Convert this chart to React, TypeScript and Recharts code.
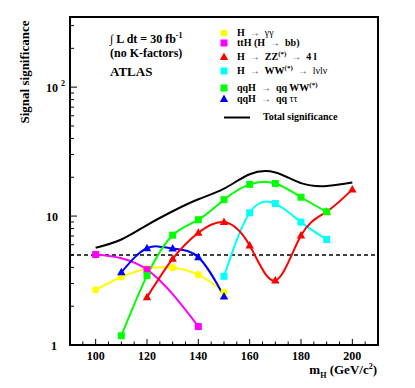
import React from 'react';
import { ComposedChart, Line, XAxis, YAxis, ReferenceLine, ReferenceArea } from 'recharts';

// Higgs mass points (GeV/c^2)
const masses = [100, 110, 120, 130, 140, 150, 160, 170, 180, 190, 200];

// signal significance per channel, null where the channel was not evaluated
const hGamGam = [2.68, 3.37, 3.91, 3.98, 3.51, 2.57, null, null, null, null, null];
const ttHbb = [5.03, null, 3.84, null, 1.39, null, null, null, null, null, null];
const hZZ4l = [null, null, 2.35, 4.66, 7.42, 8.98, 5.91, 3.17, 7.07, 10.8, 16.1];
const hWWlvlv = [null, null, null, null, null, 3.41, 10.6, 12.5, 8.98, 6.58, null];
const qqhWW = [null, 1.18, 3.45, 7.11, 9.37, 13.4, 17.6, 17.9, 14.0, 10.8, null];
const qqhTauTau = [null, 3.66, 5.63, 5.6, 4.79, 2.38, null, null, null, null, null];
const totalSig = [5.67, 6.58, 8.51, 10.9, 13.5, 16.3, 21.1, 21.8, 18.0, 17.1, 18.2];

const discoveryLevel = 5;

const xTicks = [95, 100, 105, 110, 115, 120, 125, 130, 135, 140, 145, 150, 155, 160, 165, 170, 175, 180, 185, 190, 195, 200, 205];
const xLabels = [100, 120, 140, 160, 180, 200];
const yTicks = [1, 2, 3, 4, 5, 6, 7, 8, 9, 10, 20, 30, 40, 50, 60, 70, 80, 90, 100, 200, 300];

const data = masses.map((m, i) => ({
  mass: m,
  gg: hGamGam[i],
  tth: ttHbb[i],
  zz: hZZ4l[i],
  ww: hWWlvlv[i],
  qqww: qqhWW[i],
  qqtt: qqhTauTau[i],
  total: totalSig[i],
}));

const FONT = '"Liberation Serif", "Times New Roman", serif';

type Shape = 'circle' | 'square' | 'triangle';

function drawMarker(shape: Shape, color: string, cx: number, cy: number, key?: any) {
  if (shape === 'circle') return <circle key={key} cx={cx} cy={cy} r={3.6} fill={color} />;
  if (shape === 'square') return <rect key={key} x={cx - 3.5} y={cy - 3.5} width={7} height={7} fill={color} />;
  return <polygon key={key} points={`${cx},${cy - 4.5} ${cx + 4.2},${cy + 3} ${cx - 4.2},${cy + 3}`} fill={color} />;
}

const makeDot = (shape: Shape, color: string) => (props: any) => {
  const { cx, cy, value, index } = props;
  if (cx == null || cy == null || value == null || Number.isNaN(cy)) return <g key={`n${index}`} />;
  return drawMarker(shape, color, cx, cy, `d${index}`);
};

const XTick = (props: any) => {
  const { x, y, payload } = props;
  const major = xLabels.includes(payload.value);
  return (
    <g>
      <line x1={x} y1={y} x2={x} y2={y - (major ? 6 : 3.5)} stroke="#000" strokeWidth={1} />
      {major && (
        <text x={x} y={y + 15} textAnchor="middle" fontFamily={FONT} fontWeight="bold" fontSize={12} fill="#000">
          {payload.value}
        </text>
      )}
    </g>
  );
};

const YTick = (props: any) => {
  const { x, y, payload } = props;
  const v = payload.value;
  const major = v === 1 || v === 10 || v === 100;
  return (
    <g>
      <line x1={x} y1={y} x2={x + (major ? 7 : 4)} y2={y} stroke="#000" strokeWidth={1} />
      {v === 1 && (
        <text x={x - 13} y={y + 4.5} textAnchor="end" fontFamily={FONT} fontWeight="bold" fontSize={12} fill="#000">1</text>
      )}
      {v === 10 && (
        <text x={x - 12} y={y + 4.5} textAnchor="end" fontFamily={FONT} fontWeight="bold" fontSize={12} fill="#000">10</text>
      )}
      {v === 100 && (
        <g>
          <text x={x - 12} y={y + 4.5} textAnchor="end" fontFamily={FONT} fontWeight="bold" fontSize={12} fill="#000">10</text>
          <text x={x - 9} y={y - 1} fontFamily={FONT} fontWeight="bold" fontSize={8} fill="#000">2</text>
        </g>
      )}
    </g>
  );
};

const arrow = <span style={{ fontWeight: 'normal', color: '#444' }}>&nbsp;→&nbsp;</span>;
const star = <sup style={{ fontSize: 7, lineHeight: 0 }}>(*)</sup>;

const legendItems: { shape: Shape; color: string; top: number; label: React.ReactNode }[] = [
  { shape: 'circle', color: '#ffff00', top: 33, label: <>H {arrow} <span style={{ fontWeight: 'normal' }}>γγ</span></> },
  { shape: 'square', color: '#ff00ff', top: 43, label: <>ttH (H {arrow} bb)</> },
  { shape: 'triangle', color: '#ff0000', top: 57, label: <>H {arrow} ZZ{star} {arrow} 4 l</> },
  { shape: 'square', color: '#00ffff', top: 71, label: <>H {arrow} WW{star} {arrow} <span style={{ fontWeight: 'normal' }}>lνlν</span></> },
  { shape: 'square', color: '#00ff00', top: 88, label: <>qqH {arrow} qq WW{star}</> },
  { shape: 'triangle', color: '#0000ff', top: 99, label: <>qqH {arrow} qq <span style={{ fontWeight: 'normal' }}>ττ</span></> },
];

const rowStyle: React.CSSProperties = {
  position: 'absolute', left: 218, height: 10, lineHeight: '10px', display: 'flex', alignItems: 'center',
  fontFamily: FONT, fontWeight: 'bold', fontSize: 10, whiteSpace: 'nowrap', color: '#000',
};

export default function App() {
  return (
    <div style={{ position: 'absolute', left: 0, top: 0, width: 415, height: 388, background: '#fff' }}>
      <ComposedChart width={415} height={388} data={data} margin={{ top: 17, right: 37, bottom: 0, left: 0 }}>
        <XAxis
          dataKey="mass"
          type="number"
          domain={[90, 210]}
          ticks={xTicks}
          interval={0}
          tickSize={0}
          tickMargin={0}
          tickLine={false}
          height={43}
          axisLine={{ stroke: '#000', strokeWidth: 2 }}
          tick={<XTick />}
          allowDataOverflow
        />
        <YAxis
          type="number"
          scale="log"
          domain={[1, 350]}
          ticks={yTicks}
          interval={0}
          tickSize={0}
          tickMargin={0}
          tickLine={false}
          width={70}
          axisLine={{ stroke: '#000', strokeWidth: 2 }}
          tick={<YTick />}
          allowDataOverflow
        />
        <ReferenceArea x1={90} x2={210} y1={1} y2={350} fill="none" stroke="#000" strokeWidth={2} />
        <ReferenceLine y={discoveryLevel} stroke="#000" strokeWidth={1.5} strokeDasharray="4 3" />
        <Line type="natural" dataKey="total" stroke="#000" strokeWidth={2} dot={false} isAnimationActive={false} />
        <Line type="natural" dataKey="gg" stroke="#ffff00" strokeWidth={2} dot={makeDot('circle', '#ffff00')} isAnimationActive={false} />
        <Line type="natural" dataKey="tth" stroke="#ff00ff" strokeWidth={2} connectNulls dot={makeDot('square', '#ff00ff')} isAnimationActive={false} />
        <Line type="natural" dataKey="qqtt" stroke="#0000ff" strokeWidth={2} dot={makeDot('triangle', '#0000ff')} isAnimationActive={false} />
        <Line type="natural" dataKey="ww" stroke="#00ffff" strokeWidth={2} dot={makeDot('square', '#00ffff')} isAnimationActive={false} />
        <Line type="natural" dataKey="zz" stroke="#ff0000" strokeWidth={2} dot={makeDot('triangle', '#ff0000')} isAnimationActive={false} />
        <Line type="natural" dataKey="qqww" stroke="#00ff00" strokeWidth={2} dot={makeDot('square', '#00ff00')} isAnimationActive={false} />
      </ComposedChart>

      <div
        style={{
          position: 'absolute', left: 25, top: 72, transform: 'translate(-50%, -50%) rotate(-90deg)',
          fontFamily: FONT, fontWeight: 'bold', fontSize: 13, whiteSpace: 'nowrap', color: '#000',
        }}
      >
        Signal significance
      </div>

      <div style={{ position: 'absolute', left: 110, top: 32, fontFamily: FONT, fontWeight: 'bold', fontSize: 12, lineHeight: '14px', color: '#000', whiteSpace: 'nowrap' }}>
        <div>∫ L dt = 30 fb<sup style={{ fontSize: 8, lineHeight: 0 }}>-1</sup></div>
        <div>(no K-factors)</div>
        <div style={{ fontSize: 13, marginTop: 5 }}>ATLAS</div>
      </div>

      {legendItems.map((it, i) => (
        <div key={i} style={{ ...rowStyle, top: it.top - 5 }}>
          <svg width={14} height={10} style={{ marginRight: 5 }}>
            {drawMarker(it.shape, it.color, 6, 5)}
          </svg>
          <span>{it.label}</span>
        </div>
      ))}
      <div style={{ ...rowStyle, left: 224, top: 112 }}>
        <svg width={26} height={10} style={{ marginRight: 13 }}>
          <line x1={0} y1={5.5} x2={26} y2={5.5} stroke="#000" strokeWidth={2} />
        </svg>
        <span>Total significance</span>
      </div>

      <div style={{ position: 'absolute', right: 38, top: 362, fontFamily: FONT, fontWeight: 'bold', fontSize: 13, whiteSpace: 'nowrap', color: '#000' }}>
        m<sub style={{ fontSize: 8 }}>H</sub> (GeV/c<sup style={{ fontSize: 8 }}>2</sup>)
      </div>
    </div>
  );
}
